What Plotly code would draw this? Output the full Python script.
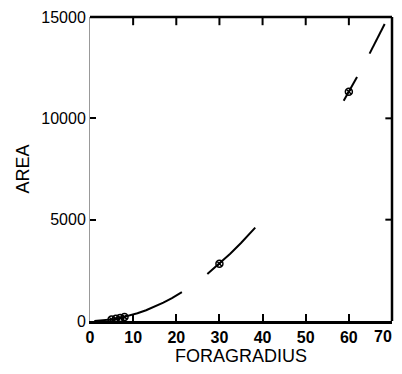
import plotly.graph_objects as go

# Curve segments (visible pieces of the fitted curve), None = gap
curve_r = [1, 3, 5, 7, 9, 11, 13, 15, 17, 19, 21.3, None,
           27.2, 30, 32.5, 35, 38.3, None,
           58.8, 60, 61.9, None,
           64.8, 66.5, 68.3]
curve_area = [3, 28, 79, 154, 254, 380, 531, 707, 908, 1134, 1425, None,
              2324, 2827, 3318, 3848, 4608, None,
              10862, 11310, 12037, None,
              13192, 13893, 14655]

# Observed points
pt_r = [5, 6, 7, 8, 30, 60]
pt_area = [79, 113, 154, 201, 2827, 11310]

x_ticks = [0, 10, 20, 30, 40, 50, 60, 70]
y_ticks = [0, 5000, 10000, 15000]

fig = go.Figure()
fig.add_trace(go.Scatter(x=curve_r, y=curve_area, mode="lines",
                         line=dict(color="black", width=2),
                         connectgaps=False, showlegend=False, cliponaxis=False))
fig.add_trace(go.Scatter(x=pt_r, y=pt_area, mode="markers",
                         marker=dict(symbol="circle-x-open", size=7,
                                     color="black", line=dict(width=1.5)),
                         showlegend=False))

font = dict(family="Liberation Sans, Arial, sans-serif", color="black")

# last x label sits on the page edge; it is drawn as an annotation so it stays visible
x_text = ["<b>%d</b>" % v for v in x_ticks[:-1]] + [""]

fig.update_xaxes(range=[0, 70], tickvals=x_ticks, ticktext=x_text,
                 ticks="inside", ticklen=7, tickwidth=2, tickcolor="black",
                 showline=True, linecolor="black", linewidth=2.5,
                 showgrid=False, zeroline=False, automargin=False,
                 tickfont=dict(size=16, **font),
                 title=dict(text="FORAGRADIUS", font=dict(size=18, **font), standoff=2))
fig.update_yaxes(range=[0, 15000], tickvals=y_ticks, ticktext=[str(v) for v in y_ticks],
                 ticks="inside", ticklen=6, tickwidth=1.5, tickcolor="black",
                 showline=True, linecolor="#999999", linewidth=1,
                 showgrid=False, zeroline=False, automargin=False,
                 tickfont=dict(size=16, **font),
                 title=dict(text="AREA", font=dict(size=18, **font), standoff=6))

fig.add_annotation(x=x_ticks[-1], xref="x", y=0, yref="paper",
                   text="<b>%d</b>" % x_ticks[-1], showarrow=False,
                   xanchor="right", yanchor="top", xshift=2, yshift=-5,
                   font=dict(size=16, **font))

# frame: heavy black top and right edges, with inward ticks mirrored from the axes
frame = dict(color="black", width=2.5)
fig.add_shape(type="line", xref="x domain", yref="y domain", x0=1, x1=1, y0=0, y1=1,
              line=frame, layer="above")
fig.add_shape(type="line", xref="x domain", yref="y domain", x0=0, x1=1, y0=1, y1=1,
              line=frame, layer="above")
for v in x_ticks[1:-1]:
    fig.add_shape(type="line", xref="x", yref="y domain", x0=v, x1=v, y0=1, y1=0.973,
                  line=dict(color="black", width=2), layer="above")
for v in y_ticks[1:-1]:
    fig.add_shape(type="line", xref="x domain", yref="y", x0=1, x1=0.978, y0=v, y1=v,
                  line=dict(color="black", width=2), layer="above")

# page body has an 8px margin on every side, so the figure must fit in 386x358
fig.update_layout(width=386, height=358,
                  margin=dict(l=82, r=2, t=9, b=45),
                  paper_bgcolor="white", plot_bgcolor="white",
                  font=font)

fig.write_html("out.html")
